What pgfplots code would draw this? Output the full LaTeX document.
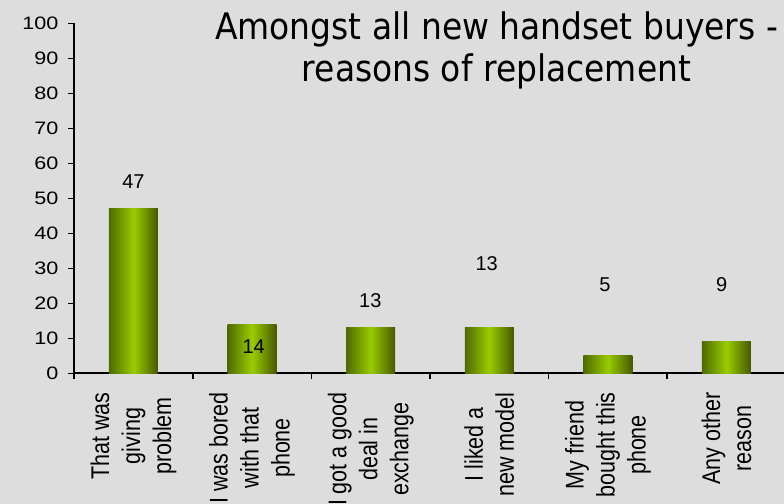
\documentclass[border=0pt]{standalone}
\usepackage{pgfplots}
\pgfplotsset{compat=1.18}
\usepackage{fontspec}
\setmainfont{Liberation Sans}
\newfontfamily\titlefont[FakeStretch=0.9]{DejaVu Sans}
\newfontfamily\yfont[FakeStretch=1.2]{Liberation Sans}
\newfontfamily\xfont[FakeStretch=0.84]{Liberation Sans}
\definecolor{bgc}{HTML}{DDDDDD}
\definecolor{barL}{HTML}{4F6A00}
\definecolor{barM}{HTML}{99CC00}
\definecolor{barR}{HTML}{465800}
\begin{document}
\begin{tikzpicture}
\fill[bgc] (-37.1pt,-65.35pt) rectangle (354.9pt,186.65pt);
\begin{axis}[
  at={(0,0)}, anchor=south west,
  scale only axis, width=355.8pt, height=175pt,
  xmin=0, xmax=6, ymin=0, ymax=100,
  enlargelimits=false,
  axis lines=left,
  axis line style={-, line width=1pt, black},
  tick align=outside,
  ytick={0,10,...,100},
  major tick length=2.85pt,
  minor tick length=3pt,
  tick style={black, line width=0.75pt},
  xtick={0.5,1.5,2.5,3.5,4.5,5.5},
  minor xtick={0,1,2,3,4,5,6},
  major x tick style={draw=none},
  xticklabels={{That was\\giving\\problem},{I was bored\\with that\\phone},{I got a good\\deal in\\exchange},{I liked a\\new model},{My friend\\bought this\\phone},{Any other\\reason}},
  xticklabel shift=6.5pt,
  xticklabel style={rotate=90, anchor=east, align=center, inner sep=0pt, font=\xfont\fontsize{12.8}{15.5}\selectfont},
  yticklabel style={xshift=-1.5pt, font=\yfont\fontsize{9}{10}\selectfont},
  /pgf/number format/assume math mode=true,
  ybar, bar width=24.5pt, bar shift=0pt,
  cyl/.style={draw=none, left color=barL, right color=barR, middle color=barM},
]
\addplot[cyl] coordinates {(0.5,47)};
\addplot[cyl] coordinates {(1.5,14)};
\addplot[cyl] coordinates {(2.5,13)};
\addplot[cyl] coordinates {(3.5,13)};
\addplot[cyl] coordinates {(4.5,5)};
\addplot[cyl] coordinates {(5.5,9)};
\begin{scope}[every node/.style={font=\fontsize{10}{12}\selectfont, inner sep=0pt}]
\node at (axis cs:0.5,54.7) {47};
\node at (axis cs:1.513,7.7) {14};
\node at (axis cs:2.497,20.8) {13};
\node at (axis cs:3.478,31.3) {13};
\node at (axis cs:4.476,25.2) {5};
\node at (axis cs:5.46,25.2) {9};
\end{scope}
\end{axis}
\node[anchor=base, inner sep=0pt, font=\titlefont\fontsize{18.3}{22}\selectfont] at (211.15pt,167pt) {Amongst all new handset buyers -};
\node[anchor=base, inner sep=0pt, font=\titlefont\fontsize{18.3}{22}\selectfont] at (211.15pt,145.8pt) {reasons of replacement};
\pgfresetboundingbox
\path[use as bounding box] (-37.1pt,-65.35pt) rectangle (354.9pt,186.65pt);
\end{tikzpicture}
\end{document}
